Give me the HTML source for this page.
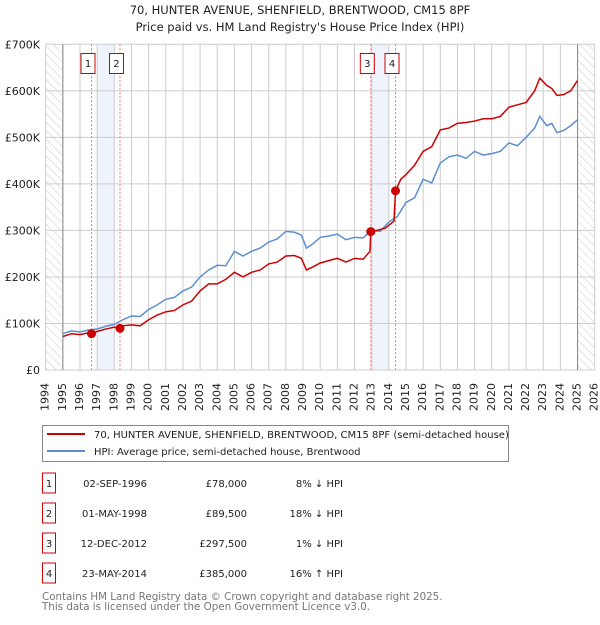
<!DOCTYPE html>
<html><head><meta charset="utf-8"><style>
body{margin:0;background:#fff;font-family:"Liberation Sans","DejaVu Sans",sans-serif;}
svg text{font-family:"DejaVu Sans","Liberation Sans",sans-serif;}
</style></head><body>
<svg id="c" width="600" height="620" xmlns="http://www.w3.org/2000/svg">
<defs><pattern id="hatch" width="6" height="6" patternUnits="userSpaceOnUse" patternTransform="rotate(-45)"><line x1="0" y1="0" x2="0" y2="6" stroke="#ccc" stroke-width="1"/></pattern></defs>
<text x="300" y="14" text-anchor="middle" font-size="11.5" fill="#222">70, HUNTER AVENUE, SHENFIELD, BRENTWOOD, CM15 8PF</text>
<text x="300" y="31" text-anchor="middle" font-size="11.5" fill="#222">Price paid vs. HM Land Registry's House Price Index (HPI)</text>
<g id="plot"></g>
<g>
<rect x="42.5" y="425.5" width="466" height="36" fill="#fff" stroke="#888"/>
<line x1="47" y1="434" x2="85" y2="434" stroke="#cc0000" stroke-width="2"/>
<text x="94" y="438" font-size="10" fill="#222">70, HUNTER AVENUE, SHENFIELD, BRENTWOOD, CM15 8PF (semi-detached house)</text>
<line x1="47" y1="451" x2="85" y2="451" stroke="#5b8fd0" stroke-width="2"/>
<text x="94" y="455" font-size="10" fill="#222">HPI: Average price, semi-detached house, Brentwood</text>
</g>
<g id="table" font-size="10" fill="#222"></g>
<text x="42" y="600" font-size="10.3" fill="#777">Contains HM Land Registry data © Crown copyright and database right 2025.</text>
<text x="42" y="610" font-size="10.3" fill="#777">This data is licensed under the Open Government Licence v3.0.</text>
</svg>
<script>
const hpiYears=[1995,1995.5,1996,1996.5,1997,1997.5,1998,1998.5,1999,1999.5,2000,2000.5,2001,2001.5,2002,2002.5,2003,2003.5,2004,2004.5,2005,2005.5,2006,2006.5,2007,2007.5,2008,2008.5,2008.9,2009.2,2009.6,2010,2010.5,2011,2011.5,2012,2012.5,2013,2013.5,2014,2014.5,2015,2015.5,2016,2016.5,2017,2017.5,2018,2018.5,2019,2019.5,2020,2020.5,2021,2021.5,2022,2022.5,2022.8,2023.2,2023.5,2023.8,2024.2,2024.6,2025];
const hpiValues=[78,84,82,86,88,94,98,108,116,115,130,140,152,156,170,178,200,215,225,224,255,245,255,262,275,282,298,296,290,262,272,285,288,292,280,285,284,300,298,318,330,360,370,410,402,445,458,462,455,470,462,465,470,488,482,500,520,545,525,530,510,515,525,538];
const ppYears=[1995,1995.5,1996,1996.5,1996.67,1997,1997.5,1998,1998.33,1998.5,1999,1999.5,2000,2000.5,2001,2001.5,2002,2002.5,2003,2003.5,2004,2004.5,2005,2005.5,2006,2006.5,2007,2007.5,2008,2008.5,2008.9,2009.2,2009.6,2010,2010.5,2011,2011.5,2012,2012.5,2012.9,2012.95,2013.3,2013.8,2014.3,2014.39,2014.7,2015,2015.5,2016,2016.5,2017,2017.5,2018,2018.5,2019,2019.5,2020,2020.5,2021,2021.5,2022,2022.5,2022.8,2023.2,2023.5,2023.8,2024.2,2024.6,2025];
const ppValues=[72,78,76,80,78,83,88,92,89.5,95,97,95,108,118,125,128,140,148,170,185,185,195,210,200,210,215,228,232,245,246,240,215,222,230,235,240,232,240,238,255,297.5,300,305,320,385,410,420,440,470,480,516,520,530,532,535,540,540,545,565,570,575,600,627,612,605,590,592,600,622];
const axisYears=[1994,1995,1996,1997,1998,1999,2000,2001,2002,2003,2004,2005,2006,2007,2008,2009,2010,2011,2012,2013,2014,2015,2016,2017,2018,2019,2020,2021,2022,2023,2024,2025,2026];
const yTicks=[0,100,200,300,400,500,600,700];
const yTickLabels=["£0","£100K","£200K","£300K","£400K","£500K","£600K","£700K"];
const saleIds=["1","2","3","4"];
const saleYears=[1996.67,1998.33,2012.95,2014.39];
const salePrices=[78,89.5,297.5,385];
const saleDates=["02-SEP-1996","01-MAY-1998","12-DEC-2012","23-MAY-2014"];
const salePriceLabels=["£78,000","£89,500","£297,500","£385,000"];
const saleHpi=["8% ↓ HPI","18% ↓ HPI","1% ↓ HPI","16% ↑ HPI"];
const bandStarts=[1997,2013];
const bandEnds=[1998,2014];

const X0=45.7,X1=594.7,Y0=370,Y1=44.3;
const xs=y=>X0+(y-1994)/(2026-1994)*(X1-X0);
const ys=v=>Y0-v/700*(Y0-Y1);
const NS="http://www.w3.org/2000/svg";
const plot=document.getElementById('plot');
function mk(tag,at,parent){const e=document.createElementNS(NS,tag);for(const k in at)e.setAttribute(k,at[k]);(parent||plot).appendChild(e);return e;}

for(let i=0;i<bandStarts.length;i++){
 const r=mk('rect',{x:xs(bandStarts[i]),y:Y1,width:xs(bandEnds[i])-xs(bandStarts[i]),height:Y0-Y1,fill:'#eef3fc'});
 
 
}
axisYears.forEach(y=>{const l=mk('line',{x1:xs(y),x2:xs(y),y1:Y1,y2:Y0,stroke:'#ccc'});
 
 });
yTicks.forEach((v,i)=>{const l=mk('line',{x1:X0,x2:X1,y1:ys(v),y2:ys(v),stroke:'#ccc'});
 
 
 const t=mk('text',{x:40,y:ys(v)+4,'text-anchor':'end','font-size':'11',fill:'#222'});t.textContent=yTickLabels[i];
 
 });
const h1=mk('rect',{x:X0,y:Y1,width:xs(1995)-X0,height:Y0-Y1,fill:'url(#hatch)'});


const h2=mk('rect',{x:xs(2025),y:Y1,width:X1-xs(2025),height:Y0-Y1,fill:'url(#hatch)'});


mk('line',{x1:xs(1995),x2:xs(1995),y1:Y1,y2:Y0,stroke:'#888'});
mk('line',{x1:xs(2025),x2:xs(2025),y1:Y1,y2:Y0,stroke:'#888'});
axisYears.forEach(y=>{const t=mk('text',{x:xs(y),y:383,'text-anchor':'end','font-size':'11',fill:'#222',transform:`rotate(-90 ${xs(y)} 383)`,'dominant-baseline':'middle'});
 t.textContent=y;
 
 });
saleYears.forEach((y,i)=>{
 const l=mk('line',{x1:xs(y),x2:xs(y),y1:Y1,y2:Y0,stroke:'#f07070','stroke-dasharray':'2,2'});
 
 
 const cx=xs(y)-3.5;
 const r=mk('rect',{x:cx-7,y:53.5,width:14,height:20,fill:'#fff',stroke:'#cc0000'});
 
 
 const t=mk('text',{x:cx,y:67,'text-anchor':'middle','font-size':'10',fill:'#222'});t.textContent=saleIds[i];
 
 
});
const hp=mk('polyline',{points:hpiYears.map((y,i)=>xs(y)+','+ys(hpiValues[i])).join(' '),fill:'none',stroke:'#5b8fd0','stroke-width':1.5});


const pp=mk('polyline',{points:ppYears.map((y,i)=>xs(y)+','+ys(ppValues[i])).join(' '),fill:'none',stroke:'#cc0000','stroke-width':1.5});


saleYears.forEach((y,i)=>{const c=mk('circle',{cx:xs(y),cy:ys(salePrices[i]),r:4.5,fill:'#cc0000'});
 
 });
const tb=document.getElementById('table');
saleIds.forEach((id,i)=>{const cy=483+i*30;
 const r=mk('rect',{x:42.5,y:cy-10,width:13,height:20,fill:'#fff',stroke:'#cc0000'},tb);
 
 
 const cols=[[49,'middle',id,'sale-number'],[147,'end',saleDates[i],'sale-date'],[247,'end',salePriceLabels[i],'sale-price'],[343,'end',saleHpi[i],'sale-hpi-diff']];
 cols.forEach(c=>{const t=mk('text',{x:c[0],y:cy+4,'text-anchor':c[1]},tb);t.textContent=c[2];
  
  });
});
</script>
</body></html>
